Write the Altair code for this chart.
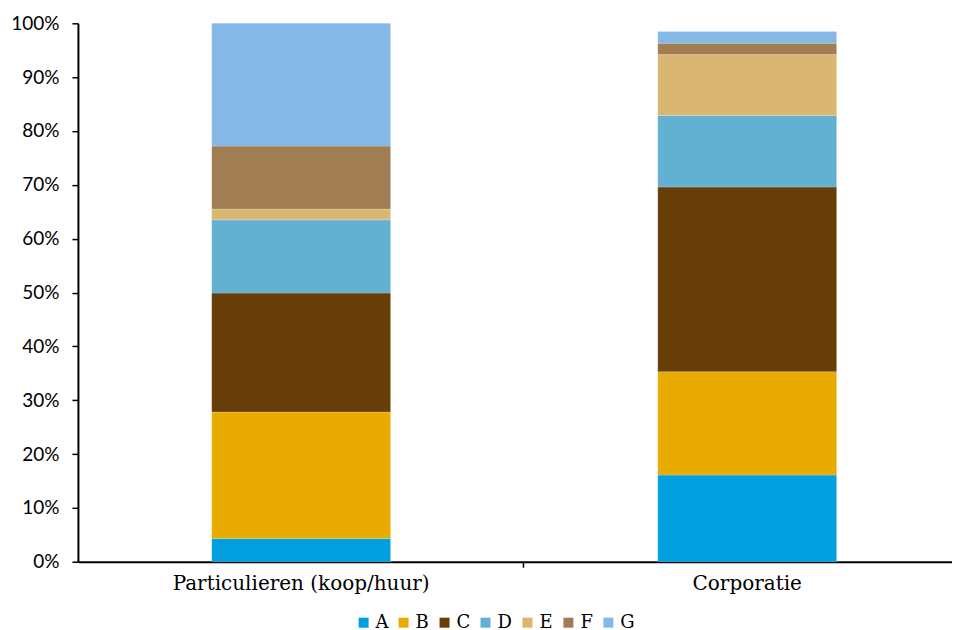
import altair as alt
import pandas as pd

categories = ["Particulieren (koop/huur)", "Corporatie"]
labels = ["A", "B", "C", "D", "E", "F", "G"]
particulieren = [4.3, 23.5, 22.1, 13.6, 2.0, 11.7, 22.8]
corporatie = [16.1, 19.2, 34.3, 13.3, 11.3, 2.1, 2.2]
colors = ["#009FE0", "#E9AB00", "#673D08", "#62B1D2", "#D9B671", "#A07D52", "#84B9E7"]

rows = []
for cat, vals in zip(categories, [particulieren, corporatie]):
    for i, (lab, v) in enumerate(zip(labels, vals)):
        rows.append({"cat": cat, "label": lab, "value": v / 100, "idx": i})
df = pd.DataFrame(rows)

W, H = 875, 539

bars = alt.Chart(df).mark_bar(stroke="#ffffff", strokeWidth=0.5, strokeOpacity=0.4).encode(
    x=alt.X("cat:N", sort=categories, title=None,
            scale=alt.Scale(paddingInner=0.599, paddingOuter=0.2793, align=0.537),
            axis=alt.Axis(labelAngle=0, labelFont="DejaVu Serif", labelFontSize=20,
                          labelLimit=0, labelColor="#000000", domainColor="#000000",
                          domainWidth=2, ticks=False, labelPadding=12)),
    y=alt.Y("value:Q", stack="zero", title=None,
            scale=alt.Scale(domain=[0, 1], nice=False),
            axis=alt.Axis(format=".0%", values=[i / 10 for i in range(11)], grid=False,
                          labelFont="Lato", labelFontSize=19, labelColor="#000000",
                          domainColor="#000000", domainWidth=2, tickColor="#000000",
                          tickWidth=1.5, tickSize=6, labelPadding=13)),
    color=alt.Color("label:N", sort=labels,
                    scale=alt.Scale(domain=labels, range=colors),
                    legend=alt.Legend(title=None, orient="none", legendX=277, legendY=591,
                                      direction="horizontal",
                                      symbolType="square", symbolSize=100, symbolStrokeWidth=0,
                                      labelFont="DejaVu Serif", labelFontSize=18,
                                      labelOffset=3, labelColor="#000000", columnPadding=6)),
    order=alt.Order("idx:Q", sort="ascending"),
)

sep = alt.Chart(pd.DataFrame({"k": [0]})).mark_rule(color="#000000", strokeWidth=1.5).encode(
    x=alt.value(446), y=alt.value(H), y2=alt.value(H + 6)
)

chart = alt.layer(bars, sep).properties(
    width=W, height=H, padding={"left": 2, "top": 6, "right": 0, "bottom": 0}
).configure_view(stroke=None)

chart.save("out.html", embed_options={"renderer": "svg", "actions": False})
